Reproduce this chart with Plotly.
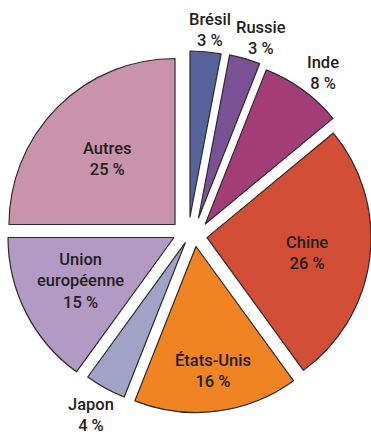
import plotly.graph_objects as go

# Share of world CO2 emissions by country / region (%)
labels = ["Brésil", "Russie", "Inde", "Chine", "États-Unis", "Japon",
          "Union européenne", "Autres"]
values = [3, 3, 8, 26, 16, 4, 15, 25]
colors = ["#56639b", "#7b5195", "#a23d78", "#d34e36", "#f08322",
          "#a0a3c6", "#b29ac5", "#c993ab"]

W, H = 371, 437
R = 166  # pie radius in px

# Each wedge is exploded on its own: pixel position of the wedge tip
tips = [(190, 217), (198.5, 218), (205.5, 224), (207, 237.6),
        (196, 246.5), (185.3, 242.7), (174, 237.5), (175, 224.5)]
radii = [R, R, R, 164, R, R, R, R]

# Label anchors (px) for the text blocks
label_pos = [(210, 30), (261, 38), (323, 73), (307, 253),
             (212.5, 371), (91, 415), (80, 281), (107.5, 159)]

fig = go.Figure()
n = len(values)
for i in range(n):
    cx, cy = tips[i]
    r = radii[i]
    dom_x = [max(0.0, (cx - r) / W), min(1.0, (cx + r) / W)]
    dom_y = [max(0.0, 1 - (cy + r) / H), min(1.0, 1 - (cy - r) / H)]
    fig.add_trace(go.Pie(
        labels=labels,
        values=values,
        sort=False,
        direction="clockwise",
        rotation=0,
        textinfo="none",
        hoverinfo="label+percent",
        showlegend=False,
        domain=dict(x=dom_x, y=dom_y),
        marker=dict(
            colors=[colors[j] if j == i else "rgba(0,0,0,0)" for j in range(n)],
            line=dict(color="#2b2b2b",
                      width=[1.2 if j == i else 0 for j in range(n)]),
        ),
    ))

for lab, val, (lx, ly) in zip(labels, values, label_pos):
    txt = lab.replace("Union ", "Union<br>") + f"<br>{val} %"
    fig.add_annotation(
        x=lx / W, y=1 - ly / H, xref="paper", yref="paper",
        text=txt, showarrow=False, xanchor="center", yanchor="middle",
        align="center",
        font=dict(family="Roboto, Liberation Sans, sans-serif",
                  size=16.5, weight=500, color="#231f20"),
    )

fig.update_layout(
    width=W, height=H,
    margin=dict(l=0, r=0, t=0, b=0),
    paper_bgcolor="white",
    plot_bgcolor="white",
)

fig.write_html("out.html")
